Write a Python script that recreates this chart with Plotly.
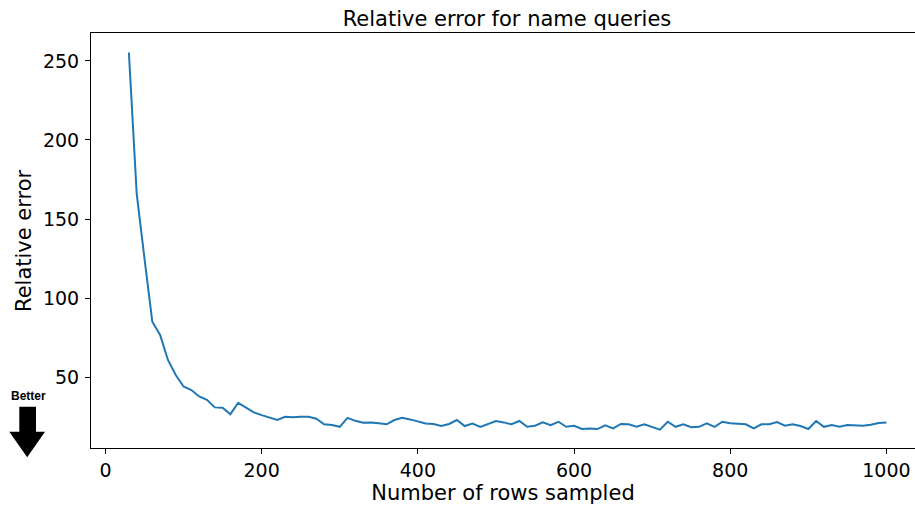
import plotly.graph_objects as go

# ---- data ----
rows_sampled = list(range(30, 1001, 10))
relative_error = [
    255.4, 166.0, 125.0, 85.0, 76.6, 60.8, 51.3, 44.0, 41.8, 37.7,
    35.6, 30.8, 30.6, 26.5, 33.7, 30.6, 27.6, 25.9, 24.2, 22.8,
    24.9, 24.5, 24.9, 24.9, 23.6, 20.1, 19.6, 18.5, 24.2, 22.3,
    21.1, 21.3, 20.7, 20.1, 22.8, 24.2, 23.2, 21.7, 20.6, 20.3,
    19.0, 20.3, 22.8, 19.0, 20.6, 18.5, 20.3, 22.2, 21.3, 20.1,
    22.2, 18.5, 19.2, 21.3, 19.6, 21.7, 18.5, 19.2, 17.1, 17.5,
    17.1, 19.4, 17.5, 20.3, 20.1, 18.5, 20.1, 18.2, 16.7, 21.7,
    18.5, 20.1, 18.2, 18.5, 20.7, 18.5, 21.7, 20.7, 20.3, 20.1,
    17.5, 20.1, 20.1, 21.5, 19.2, 20.1, 19.0, 17.1, 22.2, 18.5,
    19.6, 18.5, 19.6, 19.2, 19.2, 19.8, 20.9, 21.3,
]
x_ticks = [0, 200, 400, 600, 800, 1000]
y_ticks = [50, 100, 150, 200, 250]

W, H = 915, 505
L, R, T, B = 91, 0, 33, 57
PW, PH = W - L - R, H - T - B
Y_RANGE = [5.1, 267.7]

FONT = "DejaVu Sans"

fig = go.Figure()
fig.add_trace(go.Scatter(
    x=rows_sampled, y=relative_error, mode="lines",
    line=dict(color="#1f77b4", width=2), showlegend=False,
))

def px2paper(px, py):
    return (px - L) / PW, (H - B - py) / PH

arrow_px = [(19.3, 406.7), (36.0, 406.7), (36.0, 431.7), (45.0, 431.7),
            (27.2, 457.3), (9.3, 431.7), (19.3, 431.7)]
pts = [px2paper(a, b) for a, b in arrow_px]
path = "M " + " L ".join(f"{a:.5f},{b:.5f}" for a, b in pts) + " Z"

yt_x, yt_y = px2paper(24, 241)
bt_x, bt_y = px2paper(28, 396)

fig.update_layout(
    width=W, height=H,
    margin=dict(l=L, r=R, t=T, b=B, pad=0),
    paper_bgcolor="white", plot_bgcolor="white",
    font=dict(family=FONT, color="black", size=19),
    title=dict(text="Relative error for name queries", x=507 / W, xref="container",
               xanchor="center", y=1 - 19 / H, yref="container", yanchor="middle",
               font=dict(family=FONT, size=21, color="black")),
    xaxis=dict(range=[-18.5, 1036.6], tickvals=x_ticks, ticks="outside", ticklen=5,
               tickwidth=1, tickcolor="black", showline=True, linecolor="black",
               linewidth=1, mirror=True, showgrid=False, zeroline=False,
               tickfont=dict(size=19),
               title=dict(text="Number of rows sampled", font=dict(size=21), standoff=8)),
    yaxis=dict(range=Y_RANGE, tickvals=y_ticks, ticks="outside", ticklen=5,
               tickwidth=1, tickcolor="black", showline=True, linecolor="black",
               linewidth=1, mirror=False, showgrid=False, zeroline=False,
               tickfont=dict(size=19), ticklabelstandoff=2),
    shapes=[dict(type="path", xref="paper", yref="paper", path=path,
                 fillcolor="black", line=dict(color="black", width=0))],
    annotations=[
        dict(text="Relative error", xref="paper", yref="paper", x=yt_x, y=yt_y,
             xanchor="center", yanchor="middle", textangle=-90, showarrow=False,
             font=dict(family=FONT, size=21, color="black")),
        dict(text="<b>Better</b>", xref="paper", yref="paper", x=bt_x, y=bt_y,
             xanchor="center", yanchor="middle", showarrow=False,
             font=dict(family="Liberation Sans", size=12, color="black")),
    ],
)

fig.write_html("out.html")
